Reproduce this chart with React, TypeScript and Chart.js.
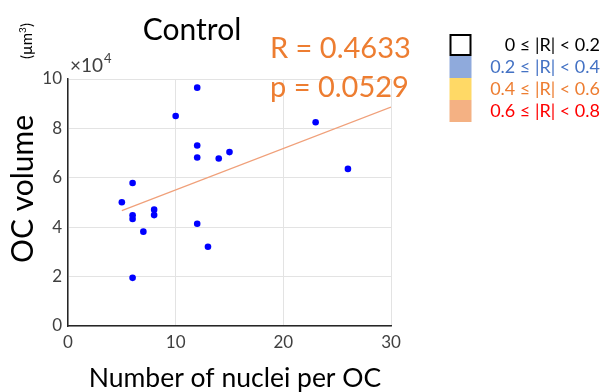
import React, { useEffect, useRef } from "react";
import { Chart, registerables } from "chart.js";

Chart.register(...registerables);

// Number of nuclei per OC
const nucleiCounts = [12, 10, 12, 12, 14, 15, 23, 26, 6, 5, 6, 6, 8, 8, 7, 12, 13, 6];
// OC volume (x10^4 µm³)
const ocVolumes = [9.65, 8.5, 7.31, 6.82, 6.78, 7.04, 8.25, 6.36, 5.79, 5.01, 4.48, 4.33, 4.71, 4.49, 3.82, 4.14, 3.21, 1.95];
// Linear fit end points
const fitX = [5, 30];
const fitY = [4.67, 8.86];

const xTicks = [0, 10, 20, 30];
const yTicks = [0, 2, 4, 6, 8, 10];

const chartTitle = "Control";
const statLines = ["R = 0.4633", "p = 0.0529"];
const legendLabels = ["0 ≤ |R| < 0.2", "0.2 ≤ |R| < 0.4", "0.4 ≤ |R| < 0.6", "0.6 ≤ |R| < 0.8"];
const legendFills = ["#ffffff", "#8faadc", "#ffd966", "#f4b183"];
const legendTextColors = ["#000000", "#4472c4", "#ed7d31", "#ff0000"];

const FONT = "Lato, 'Open Sans', sans-serif";

const annotations = {
  id: "annotations",
  afterDraw(chart: any) {
    const ctx = chart.ctx as CanvasRenderingContext2D;
    ctx.save();
    // Title
    ctx.fillStyle = "#000";
    ctx.font = `30px ${FONT}`;
    ctx.textAlign = "center";
    ctx.textBaseline = "alphabetic";
    ctx.fillText(chartTitle, 192, 40);

    // Stats
    ctx.fillStyle = "#ed7d31";
    ctx.font = `29px ${FONT}`;
    ctx.textAlign = "left";
    ctx.fillText(statLines[0], 270, 58);
    ctx.fillText(statLines[1], 270, 97);

    // x10^4
    ctx.fillStyle = "#404040";
    ctx.font = `19px ${FONT}`;
    ctx.fillText("×10", 70, 72);
    const wx = ctx.measureText("×10").width;
    ctx.font = `13px ${FONT}`;
    ctx.fillText("4", 71 + wx, 63);

    // Y axis title
    ctx.save();
    ctx.translate(33, 189);
    ctx.rotate(-Math.PI / 2);
    ctx.fillStyle = "#000";
    ctx.font = `30px ${FONT}`;
    ctx.textAlign = "center";
    ctx.fillText("OC volume", 0, 0);
    ctx.restore();

    // unit
    ctx.save();
    ctx.translate(32, 37);
    ctx.rotate(-Math.PI / 2);
    ctx.fillStyle = "#000";
    ctx.textAlign = "left";
    ctx.font = `15px ${FONT}`;
    const w1 = ctx.measureText("(µm").width;
    const start = -22;
    ctx.fillText("(µm", start, 0);
    ctx.font = `10px ${FONT}`;
    ctx.fillText("3", start + w1, -6);
    const w2 = ctx.measureText("3").width;
    ctx.font = `15px ${FONT}`;
    ctx.fillText(")", start + w1 + w2, 0);
    ctx.restore();

    // X axis title
    ctx.fillStyle = "#000";
    ctx.font = `26.5px ${FONT}`;
    ctx.textAlign = "center";
    ctx.fillText("Number of nuclei per OC", 235, 387);

    // Legend
    const rowTops = [34, 56, 78, 100];
    for (let i = 0; i < legendLabels.length; i++) {
      ctx.fillStyle = legendFills[i];
      ctx.fillRect(449.5, rowTops[i], 22, 22);
      if (i === 0) {
        ctx.strokeStyle = "#000";
        ctx.lineWidth = 2;
        ctx.strokeRect(450.5, rowTops[i] + 1, 20, 20);
      }
      ctx.fillStyle = legendTextColors[i];
      ctx.font = `18px ${FONT}`;
      ctx.textAlign = "right";
      ctx.fillText(legendLabels[i], 600, rowTops[i] + 17);
    }
    ctx.restore();
  },
};

export default function App() {
  const ref = useRef<HTMLCanvasElement>(null);
  useEffect(() => {
    if (!ref.current) return;
    const chart = new Chart(ref.current, {
      type: "scatter",
      data: {
        datasets: [
          {
            type: "line",
            data: fitX.map((x, i) => ({ x, y: fitY[i] })),
            borderColor: "#f0a07a",
            borderWidth: 1.2,
            pointRadius: 0,
            fill: false,
          } as any,
          {
            data: nucleiCounts.map((x, i) => ({ x, y: ocVolumes[i] })),
            backgroundColor: "#0000ff",
            borderColor: "#0000ff",
            pointRadius: 3.3,
            borderWidth: 0,
          },
        ],
      },
      options: {
        animation: false,
        responsive: false,
        devicePixelRatio: 1,
        layout: { padding: { top: 79, right: 213, left: 0, bottom: 0 } },
        plugins: { legend: { display: false }, tooltip: { enabled: false } },
        scales: {
          x: {
            type: "linear",
            min: 0,
            max: 30,
            afterBuildTicks: (s: any) => {
              s.ticks = xTicks.map((v) => ({ value: v }));
            },
            afterFit: (s: any) => {
              s.height = 66;
            },
            ticks: { color: "#404040", font: { family: FONT, size: 17 }, padding: 6 },
            grid: { color: "#e3e3e3", drawTicks: false },
            border: { color: "#262626", width: 1.5 },
          },
          y: {
            min: 0,
            max: 10,
            afterBuildTicks: (s: any) => {
              s.ticks = yTicks.map((v) => ({ value: v }));
            },
            afterFit: (s: any) => {
              s.width = 68;
            },
            ticks: { color: "#404040", font: { family: FONT, size: 17 }, padding: 6 },
            grid: { color: "#e3e3e3", drawTicks: false },
            border: { color: "#262626", width: 1.5 },
          },
        },
      },
      plugins: [annotations],
    });
    return () => chart.destroy();
  }, []);
  return (
    <div style={{ position: "fixed", left: 0, top: 0, width: 604, height: 392, background: "#fff" }}>
      <canvas ref={ref} width={604} height={392} />
    </div>
  );
}
